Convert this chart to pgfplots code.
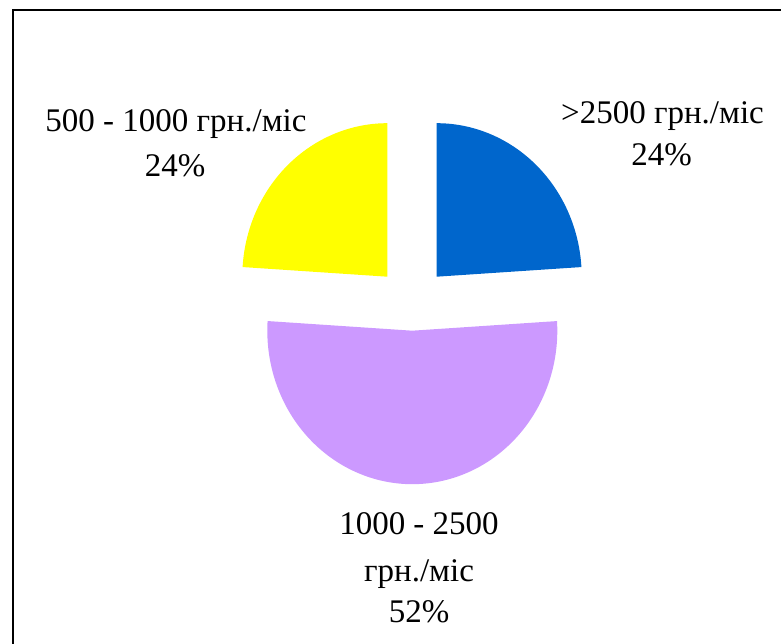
\documentclass[border=0pt]{standalone}
\usepackage{pgfplots}
\pgfplotsset{compat=1.18}
\usepackage{fontspec}
\setmainfont{Liberation Serif}

\definecolor{sliceBlue}{HTML}{0066CC}
\definecolor{sliceLilac}{HTML}{CC99FF}
\definecolor{sliceYellow}{HTML}{FFFF00}

% shares of respondents, %
\def\pHigh{24}   % >2500 грн./міс
\def\pMid{52}    % 1000 - 2500 грн./міс
\def\pLow{24}    % 500 - 1000 грн./міс

% slice radii (horizontal / vertical)
\def\rx{145}
\def\ry{153.5}

\tikzset{lbl/.style={anchor=base, inner sep=0pt, font=\fontsize{33}{40}\selectfont}}

\begin{document}
\begin{tikzpicture}
\useasboundingbox (0pt,0pt) rectangle (781pt,644pt);
\pgfmathsetmacro{\aA}{90-3.6*\pHigh}
\pgfmathsetmacro{\aB}{90-3.6*(\pHigh+\pMid)}
\pgfmathsetmacro{\aC}{90-3.6*(\pHigh+\pMid+\pLow)}
\begin{axis}[
  x=1pt, y=1pt,
  xmin=0, xmax=781, ymin=0, ymax=644,
  scale only axis, hide axis, clip=false,
  at={(0pt,0pt)}, anchor=south west,
]
% >2500 грн./міс
\addplot[fill=sliceBlue, draw=none, domain=\aA:90, samples=90, variable=\t]
  ({436.7+\rx*cos(t)}, {367.3+\ry*sin(t)}) -- (axis cs:436.7,367.3) -- cycle;
% 1000 - 2500 грн./міс
\addplot[fill=sliceLilac, draw=none, domain=\aB:\aA, samples=180, variable=\t]
  ({412.3+\rx*cos(t)}, {313.3+\ry*sin(t)}) -- (axis cs:412.3,313.3) -- cycle;
% 500 - 1000 грн./міс
\addplot[fill=sliceYellow, draw=none, domain=\aC:\aB, samples=90, variable=\t]
  ({387.3+\rx*cos(t)}, {367.3+\ry*sin(t)}) -- (axis cs:387.3,367.3) -- cycle;

% data labels
\node[lbl] at (axis cs:176,512.3) {500 - 1000 грн./міс};
\node[lbl] at (axis cs:175,467) {\pLow\%};
\node[lbl] at (axis cs:662.5,520.7) {>2500 грн./міс};
\node[lbl] at (axis cs:661.7,478) {\pHigh\%};
\node[lbl] at (axis cs:419,109) {1000 - 2500};
\node[lbl] at (axis cs:419,62.3) {грн./міс};
\node[lbl] at (axis cs:419,21) {\pMid\%};
\end{axis}
% chart frame
\draw[line width=2.4pt] (13pt,0pt) -- (13pt,634pt) -- (781pt,634pt);
\end{tikzpicture}
\end{document}
